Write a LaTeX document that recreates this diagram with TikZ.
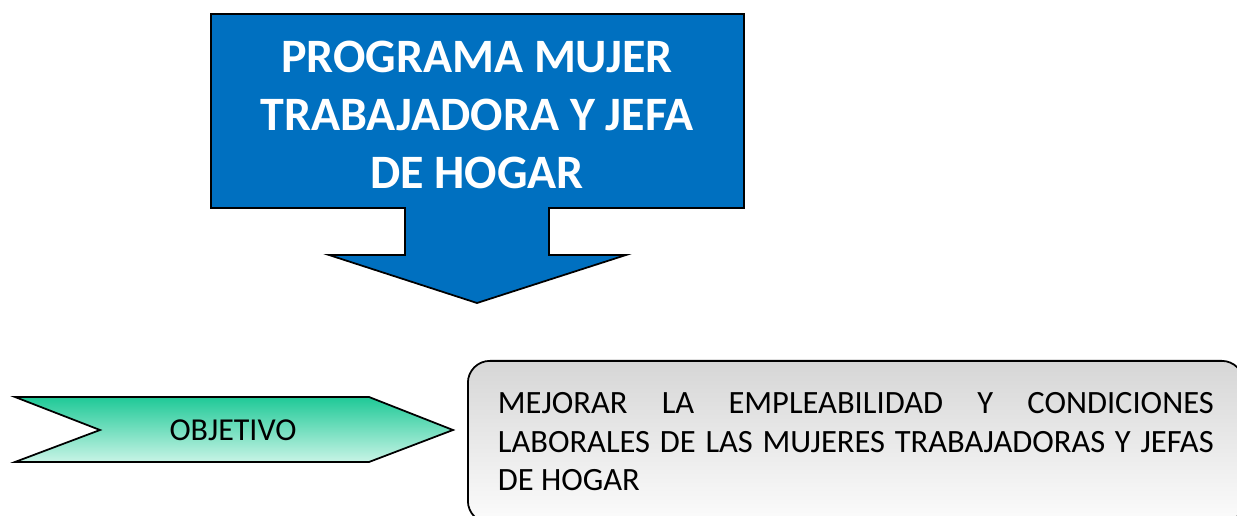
\documentclass[tikz,border=0pt]{standalone}
\usepackage{fontspec}
\setmainfont{Carlito}
\definecolor{progblue}{HTML}{0070C0}
\definecolor{chevtop}{HTML}{1FC997}
\definecolor{chevbottom}{HTML}{C8F4E6}
\definecolor{boxtop}{HTML}{D6D6D6}
\definecolor{boxbottom}{HTML}{FCFCFC}
\hyphenpenalty=10000

\begin{document}
\begin{tikzpicture}[x=0.02cm, y=-0.02cm]
                \tikzstyle{bluearrow} = [draw=black, line width=1pt, fill=progblue]
                \tikzstyle{chevron} = [draw=black, line width=1pt, top color=chevtop, bottom color=chevbottom]
                \tikzstyle{titletext} = [text=white, align=center, font=\fontsize{27.3}{33}\selectfont\bfseries]
                \tikzstyle{labeltext} = [font=\fontsize{18.2}{22}\selectfont]
                \tikzstyle{roundbox} = [rectangle, rounded corners=0.44cm, draw=black, line width=1pt, top color=boxtop, bottom color=boxbottom, text width=14.32cm, align=justify, inner xsep=0.6cm, inner ysep=0.28cm, minimum height=3.24cm, font=\fontsize{18.5}{22}\selectfont]
                \useasboundingbox (0,0) rectangle (1237,516);

                \draw [bluearrow] (211,14) -- (744,14) -- (744,208) -- (549,208) -- (549,255) -- (626,255) -- (477,303) -- (329,255) -- (405,255) -- (405,208) -- (211,208) -- cycle;
                \draw [chevron] (15,397) -- (369,397) -- (453,430) -- (369,462) -- (15,462) -- (100,430) -- cycle;

                \node (prog) [titletext] at (477,115) {PROGRAMA MUJER\\TRABAJADORA Y JEFA\\DE HOGAR};
                \node (obj) [labeltext] at (233,430) {OBJETIVO};
                \node (meta) [roundbox, anchor=north west] at (467,360) {MEJORAR LA EMPLEABILIDAD Y CONDICIONES\linebreak LABORALES DE LAS MUJERES TRABAJADORAS Y JEFAS\linebreak DE HOGAR};
            \end{tikzpicture}
\end{document}
